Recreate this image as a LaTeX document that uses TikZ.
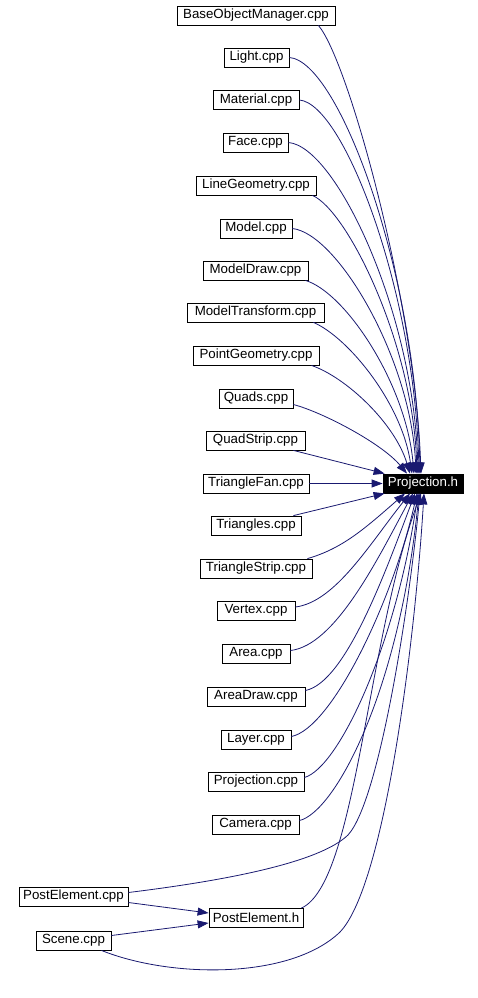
\documentclass[tikz,border=0pt]{standalone}
\usepackage{fontspec}
\setmainfont{Liberation Sans}
\usetikzlibrary{arrows.meta}
\definecolor{edgeblue}{RGB}{25,25,112}
\begin{document}
\begin{tikzpicture}[x=1pt,y=-1pt,
  file/.style={draw=black, line width=0.8pt, fill=white, inner xsep=2pt, inner ysep=0pt,
    minimum height=19pt, font=\fontsize{13.3}{15}\selectfont},
  hdr/.style={file, fill=black, draw=black, text=white},
  dep/.style={draw=edgeblue, line width=0.8pt, -{Triangle[length=11pt,width=8pt]}}]
\useasboundingbox (0,0) rectangle (478,998);
% nodes
\node[file, minimum width=158pt] (bom) at (256,15.5) {BaseObjectManager.cpp};
\node[file, minimum width=65pt] (light) at (256.5,57.5) {Light.cpp};
\node[file, minimum width=86pt] (mat) at (256,100) {Material.cpp};
\node[file, minimum width=65pt] (face) at (255.5,142.5) {Face.cpp};
\node[file, minimum width=120pt] (lg) at (256,185.5) {LineGeometry.cpp};
\node[file, minimum width=72pt] (model) at (256,228.5) {Model.cpp};
\node[file, minimum width=105pt] (md) at (255.5,270.5) {ModelDraw.cpp};
\node[file, minimum width=137pt] (mt) at (255.5,312.5) {ModelTransform.cpp};
\node[file, minimum width=126pt] (pg) at (256,355.5) {PointGeometry.cpp};
\node[file, minimum width=74pt] (quads) at (256,398.5) {Quads.cpp};
\node[file, minimum width=99pt] (qs) at (255.5,440.5) {QuadStrip.cpp};
\node[file, minimum width=106pt] (tf) at (256,483.5) {TriangleFan.cpp};
\node[file, minimum width=90pt] (tri) at (256,525.5) {Triangles.cpp};
\node[file, minimum width=112pt] (ts) at (256,568.5) {TriangleStrip.cpp};
\node[file, minimum width=78pt] (vx) at (256,610.5) {Vertex.cpp};
\node[file, minimum width=68pt] (area) at (256,653.5) {Area.cpp};
\node[file, minimum width=98pt] (ad) at (256,696.5) {AreaDraw.cpp};
\node[file, minimum width=70pt] (layer) at (256,739.5) {Layer.cpp};
\node[file, minimum width=96pt] (pc) at (256,781.5) {Projection.cpp};
\node[file, minimum width=87pt] (cam) at (255.5,824.5) {Camera.cpp};
\node[file, minimum width=109pt] (pec) at (73.5,896.5) {PostElement.cpp};
\node[file, minimum width=94pt] (peh) at (256,918) {PostElement.h};
\node[file, minimum width=75pt] (scene) at (73.5,940.5) {Scene.cpp};
\node[hdr, minimum width=80pt] (ph) at (423,483.5) {Projection.h};
% edges into Projection.h from above
\draw[dep] ([xshift=-17pt]bom.south east) .. controls +(30,35) and +(-6,-170) .. ([xshift=-2pt]ph.north);
\draw[dep] (light.east) .. controls +(50,4) and +(-4,-200) .. ([xshift=-3pt]ph.north);
\draw[dep] (mat.east) .. controls +(45,4) and +(-4,-180) .. ([xshift=-4pt]ph.north);
\draw[dep] (face.east) .. controls +(48,4) and +(-4,-160) .. ([xshift=-5pt]ph.north);
\draw[dep] ([xshift=-4pt]lg.south east) .. controls +(35,15) and +(-4,-130) .. ([xshift=-6pt]ph.north);
\draw[dep] (model.east) .. controls +(45,5) and +(-5,-115) .. ([xshift=-7pt]ph.north);
\draw[dep] ([xshift=-3pt]md.south east) .. controls +(40,12) and +(-8,-90) .. ([xshift=-9pt]ph.north);
\draw[dep] ([xshift=-11pt]mt.south east) .. controls +(35,15) and +(-10,-70) .. ([xshift=-11pt]ph.north);
\draw[dep] ([xshift=-8pt]pg.south east) .. controls +(35,12) and +(-15,-50) .. ([xshift=-13pt]ph.north);
\draw[dep] ([yshift=-6pt]quads.east) .. controls +(30,8) and +(-25,-30) .. ([xshift=-16pt]ph.north);
\draw[dep] ([xshift=-12pt]qs.south east) -- ([xshift=2pt]ph.north west);
\draw[dep] (tf.east) -- (ph.west);
\draw[dep] ([xshift=-8pt]tri.north east) -- ([xshift=2pt]ph.south west);
% edges into Projection.h from below
\draw[dep] ([xshift=-5pt]ts.north east) .. controls +(35,-10) and +(-40,35) .. ([xshift=-18pt]ph.south);
\draw[dep] ([yshift=3.5pt]vx.east) .. controls +(40,-5) and +(-40,50) .. ([xshift=-13pt]ph.south);
\draw[dep] ([yshift=3pt]area.east) .. controls +(45,-5) and +(-35,65) .. ([xshift=-10pt]ph.south);
\draw[dep] ([yshift=6pt]ad.east) .. controls +(40,-8) and +(-30,80) .. ([xshift=-8pt]ph.south);
\draw[dep] ([yshift=3pt]layer.east) .. controls +(40,-8) and +(-25,110) .. ([xshift=-6pt]ph.south);
\draw[dep] ([yshift=4pt]pc.east) .. controls +(35,-10) and +(-22,150) .. ([xshift=-5pt]ph.south);
\draw[dep] ([yshift=4pt]cam.east) .. controls +(35,-8) and +(-20,200) .. ([xshift=-4pt]ph.south);
\draw[dep] ([yshift=4pt]pec.east) .. controls (230,880) and (320,862) .. (348,835)
  .. controls (380,800) and (410,600) .. ([xshift=-3pt]ph.south);
\draw[dep] ([xshift=-2pt]peh.north east) .. controls +(55,-25) and +(-55,150) .. ([xshift=-2pt]ph.south);
\draw[dep] ([xshift=-10pt]scene.south east) .. controls (170,978) and (290,980) .. (340,932)
  .. controls (385,885) and (415,640) .. ([xshift=1pt]ph.south);
% edges into PostElement.h
\draw[dep] ([yshift=-6pt]pec.east) -- ([yshift=5pt]peh.west);
\draw[dep] ([yshift=5pt]scene.east) -- ([yshift=-5pt]peh.west);
\end{tikzpicture}
\end{document}
